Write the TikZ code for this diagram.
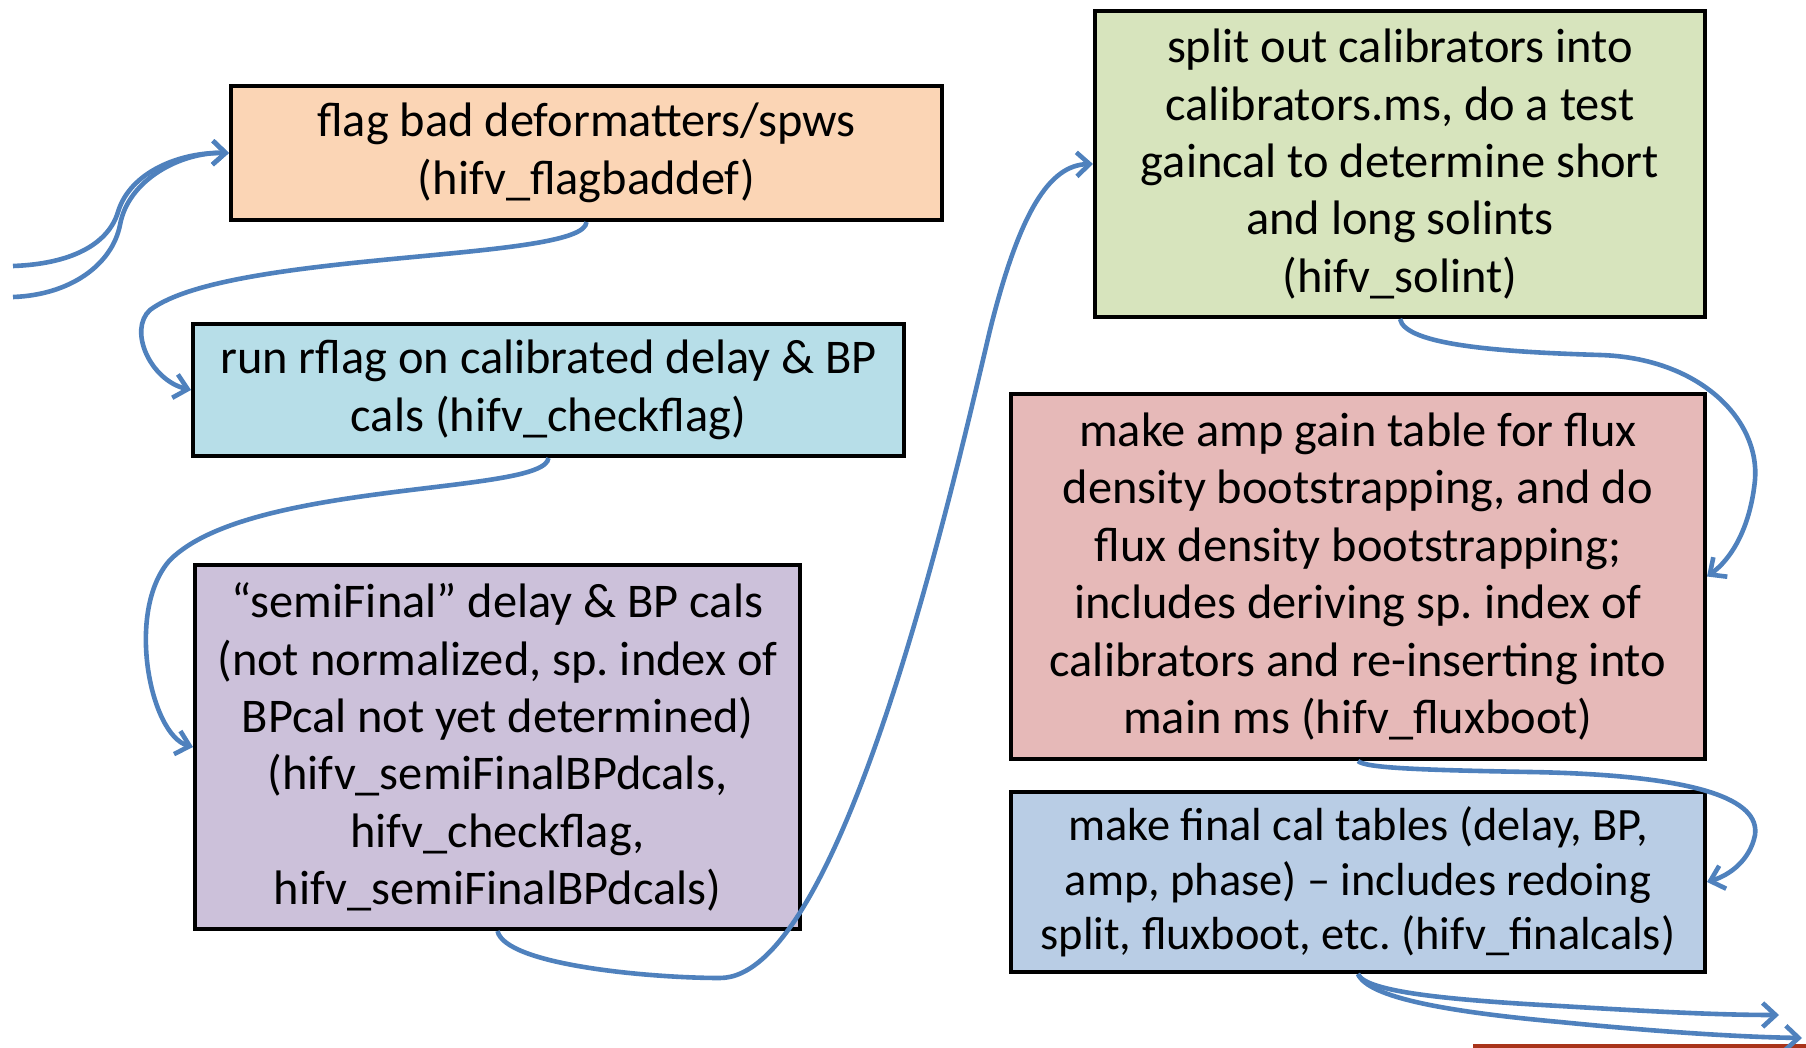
\documentclass[tikz,border=0pt]{standalone}
\usepackage{fontspec}
\setmainfont{Carlito}
\usepackage{tikz}
\usetikzlibrary{arrows.meta}
\frenchspacing

\definecolor{peach}{HTML}{FBD5B5}
\definecolor{paleblue}{HTML}{B7DEE8}
\definecolor{lilac}{HTML}{CCC1DA}
\definecolor{sage}{HTML}{D7E4BD}
\definecolor{rose}{HTML}{E6B9B8}
\definecolor{steel}{HTML}{B9CDE5}
\definecolor{flowblue}{HTML}{4F81BD}
\definecolor{rust}{HTML}{A9341A}

\begin{document}
\begin{tikzpicture}[x=0.5pt,y=-0.5pt,
	stage/.style={draw=black, line width=2pt, align=center, inner sep=0pt,
		font=\fontsize{24.2}{28.7}\selectfont},
	flow/.style={draw=flowblue, line width=2.3pt,
		-{Straight Barb[length=6.5pt,width=12pt]}},
	]
	\useasboundingbox (0,0) rectangle (1806,1048);

	% left column
	\node[stage, fill=peach, minimum width=355.5pt, minimum height=67pt] (flagdef) at (586.5,153)
		{flag bad deformatters/spws\\(hifv\_flagbaddef)};
	\node[stage, fill=paleblue, minimum width=355.5pt, minimum height=66pt] (rflag) at (548.5,390)
		{run rflag on calibrated delay \& BP\\cals (hifv\_checkflag)};
	\node[stage, fill=lilac, minimum width=302.5pt, minimum height=182pt] (semifinal) at (497.5,747)
		{“semiFinal” delay \& BP cals\\(not normalized, sp. index of\\BPcal not yet determined)\\(hifv\_semiFinalBPdcals,\\hifv\_checkflag,\\hifv\_semiFinalBPdcals)};

	% right column
	\node[stage, fill=sage, minimum width=305pt, minimum height=153pt] (solint) at (1400,164)
		{split out calibrators into\\calibrators.ms, do a test\\gaincal to determine short\\and long solints\\(hifv\_solint)};
	\node[stage, fill=rose, minimum width=347pt, minimum height=182.5pt] (fluxboot) at (1358,576.5)
		{make amp gain table for flux\\density bootstrapping, and do\\flux density bootstrapping;\\includes deriving sp. index of\\calibrators and re-inserting into\\main ms (hifv\_fluxboot)};
	\node[stage, fill=steel, minimum width=347pt, minimum height=90pt,
		font=\fontsize{23.2}{27.3}\selectfont] (finalcals) at (1358,882)
		{make final cal tables (delay, BP,\\amp, phase) -- includes redoing\\split, fluxboot, etc. (hifv\_finalcals)};

	% loose ends
	\coordinate (inA) at (13,266);
	\coordinate (inB) at (13,297);
	\coordinate (outA) at (1779,1015);
	\coordinate (outB) at (1802,1038);
	\fill[rust] (1473,1044) rectangle (1806,1048);

	% connectors
	\draw[flow] (inA) .. controls (70,264) and (108,245) .. (118,212)
		.. controls (130,172) and (180,152) .. (flagdef.west);
	\draw[flow] (inB) .. controls (70,295) and (112,265) .. (120,225)
		.. controls (128,180) and (180,152) .. (flagdef.west);
	\draw[flow] (flagdef.south) .. controls (585,262) and (230,250) .. (150,310)
		.. controls (128,330) and (150,380) .. (rflag.west);
	\draw[flow] (rflag.south) .. controls (545,495) and (250,480) .. (170,560)
		.. controls (125,610) and (150,735) .. (semifinal.west);
	\draw[flow] (semifinal.south) .. controls (505,965) and (650,978) .. (720,978)
		.. controls (840,978) and (950,500) .. (990,330)
		.. controls (1020,210) and (1050,165) .. (solint.west);
	\draw[flow] (solint.south) .. controls (1405,345) and (1500,352) .. (1600,355)
		.. controls (1700,358) and (1760,420) .. (1755,480)
		.. controls (1750,530) and (1730,560) .. (fluxboot.east);
	\draw[flow] (fluxboot.south) .. controls (1365,768) and (1420,770) .. (1530,772)
		.. controls (1700,775) and (1760,800) .. (1755,835)
		.. controls (1750,860) and (1730,875) .. (finalcals.east);
	\draw[flow] (finalcals.south) .. controls (1365,992) and (1450,1000) .. (1560,1006)
		.. controls (1660,1012) and (1720,1015) .. (outA);
	\draw[flow] (finalcals.south) .. controls (1368,998) and (1450,1012) .. (1560,1022)
		.. controls (1660,1032) and (1740,1037) .. (outB);
\end{tikzpicture}
\end{document}
